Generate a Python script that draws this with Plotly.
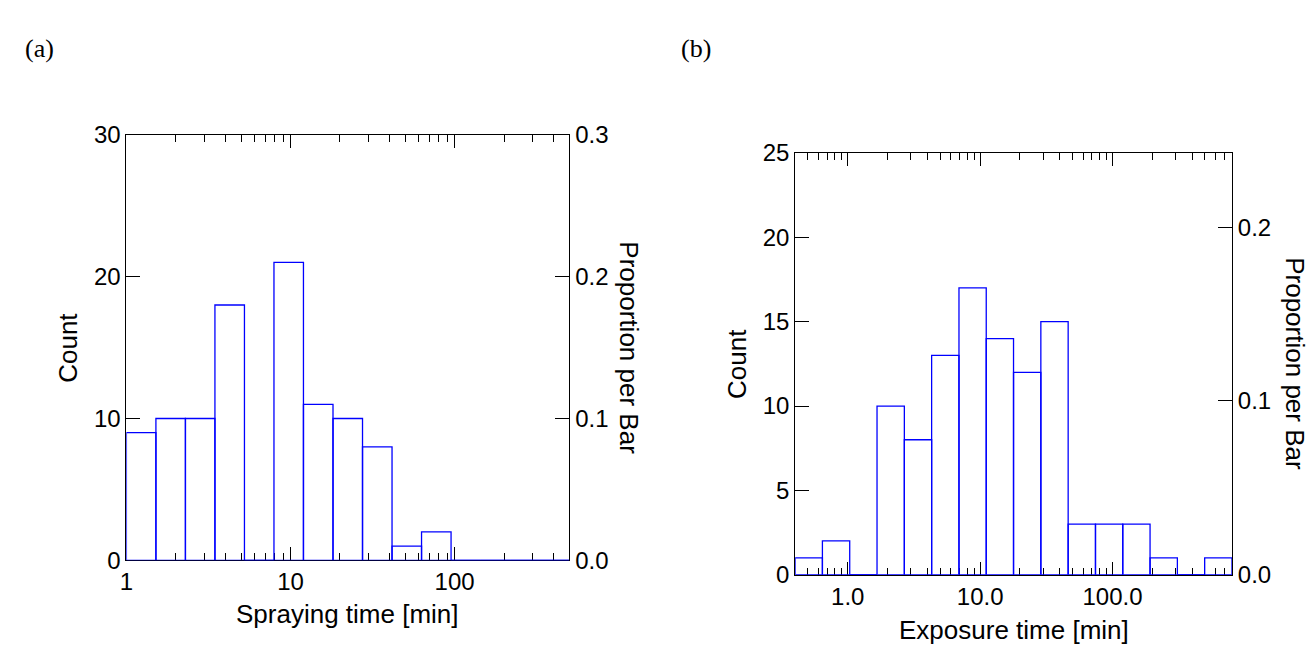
import plotly.graph_objects as go

# (a) spraying time histogram, 15 log-spaced bins from 1 to 500 min
spray_edges = [1.0, 1.513, 2.289, 3.463, 5.240, 7.928, 11.99, 18.15, 27.46,
               41.55, 62.87, 95.12, 143.9, 217.7, 329.4, 500.0]
spray_counts = [9, 10, 10, 18, 0, 21, 11, 10, 8, 1, 2, 0, 0, 0, 0]

# (b) exposure time histogram, 16 log-spaced bins from 0.4 to 800 min
expo_edges = [0.4, 0.643, 1.034, 1.663, 2.675, 4.30, 6.92, 11.12, 17.88,
              28.76, 46.25, 74.4, 119.6, 192.3, 309.3, 497.4, 800.0]
expo_counts = [1, 2, 0, 10, 8, 13, 17, 14, 12, 15, 3, 3, 3, 1, 0, 1]

spray_minor = [2, 3, 4, 5, 6, 7, 8, 9, 20, 30, 40, 50, 60, 70, 80, 90,
               200, 300, 400, 500]
expo_minor = [0.5, 0.6, 0.7, 0.8, 0.9, 2, 3, 4, 5, 6, 7, 8, 9,
              20, 30, 40, 50, 60, 70, 80, 90, 200, 300, 400, 500, 600, 700, 800]

BLUE = '#0000ff'
FONT = 'Liberation Sans, Arial, sans-serif'
W, H = 1316, 649


def outline(edges, counts):
    xs, ys = [], []
    for i, c in enumerate(counts):
        xs += [edges[i], edges[i], edges[i + 1], edges[i + 1], None]
        ys += [0, c, c, 0, None]
    xs += [edges[0], edges[-1]]
    ys += [0, 0]
    return xs, ys


fig = go.Figure()

xa, ya = outline(spray_edges, spray_counts)
fig.add_trace(go.Scatter(x=xa, y=ya, mode='lines', line=dict(color=BLUE, width=1.3),
                         xaxis='x', yaxis='y', hoverinfo='skip'))
n_a = sum(spray_counts)
fig.add_trace(go.Scatter(x=[spray_edges[0]], y=[spray_counts[0] / n_a], mode='markers',
                         marker=dict(opacity=0), xaxis='x', yaxis='y2', hoverinfo='skip'))

xb, yb = outline(expo_edges, expo_counts)
fig.add_trace(go.Scatter(x=xb, y=yb, mode='lines', line=dict(color=BLUE, width=1.3),
                         xaxis='x2', yaxis='y3', hoverinfo='skip'))
n_b = sum(expo_counts)
fig.add_trace(go.Scatter(x=[expo_edges[0]], y=[expo_counts[0] / n_b], mode='markers',
                         marker=dict(opacity=0), xaxis='x2', yaxis='y4', hoverinfo='skip'))

tickfont = dict(family=FONT, size=24, color='black')
axis_common = dict(showline=True, linecolor='black', linewidth=1, showgrid=False,
                   zeroline=False, ticks='inside', tickcolor='black', tickwidth=1,
                   tickfont=tickfont, layer='below traces')


def xaxis(dom, rng, minor, tickvals, ticktext):
    return dict(axis_common, domain=dom, type='log', range=rng, mirror='ticks',
                ticklen=13, tickvals=tickvals, ticktext=ticktext,
                minor=dict(ticks='inside', ticklen=7, tickcolor='black', tickwidth=1,
                           tickvals=minor, showgrid=False))


ya_dom = [1 - 561.7 / H, 1 - 117.7 / H]
yb_dom = [1 - 576.7 / H, 1 - 136.7 / H]

fig.update_layout(
    width=W, height=H,
    margin=dict(l=0, r=0, t=0, b=0),
    paper_bgcolor='white', plot_bgcolor='white',
    showlegend=False,
    xaxis=xaxis([112 / W, 557.3 / W], [0, 2.69897], spray_minor,
                [1, 10, 100], ['1', '10', '100']),
    yaxis=dict(axis_common, domain=ya_dom, anchor='x', range=[0, 30], dtick=10,
               ticklen=14),
    yaxis2=dict(axis_common, domain=ya_dom, anchor='x', overlaying='y', side='right',
                range=[0, 30 / n_a], tickvals=[0, 0.1, 0.2, 0.3],
                ticktext=['0.0', '0.1', '0.2', '0.3'], ticklen=14),
    xaxis2=dict(xaxis([784.3 / W, 1223.5 / W], [-0.39794, 2.90309], expo_minor,
                      [1, 10, 100], ['1.0', '10.0', '100.0']), anchor='y3'),
    yaxis3=dict(axis_common, domain=yb_dom, anchor='x2', range=[0, 25], dtick=5,
                ticklen=14),
    yaxis4=dict(axis_common, domain=yb_dom, anchor='x2', overlaying='y3', side='right',
                range=[0, 25 / n_b], tickvals=[0, 0.1, 0.2],
                ticktext=['0.0', '0.1', '0.2'], ticklen=14),
)
fig.layout.xaxis.anchor = 'y'

titlefont = dict(family=FONT, size=26, color='black')
labels = [
    ('Spraying time [min]', 334.6, 618, 0, titlefont),
    ('Exposure time [min]', 1003.9, 634, 0, titlefont),
    ('Count', 52.5, 339.7, -90, titlefont),
    ('Count', 726, 356.7, -90, titlefont),
    ('Proportion per Bar', 617.5, 339.7, 90, titlefont),
    ('Proportion per Bar', 1286.5, 356.7, 90, titlefont),
]
for text, px, py, ang, f in labels:
    fig.add_annotation(text=text, x=px / W, y=1 - py / H, xref='paper', yref='paper',
                       xanchor='center', yanchor='middle', textangle=ang,
                       showarrow=False, font=f)

panel_font = dict(family='Liberation Serif, Times New Roman, serif', size=26, color='black')
fig.add_annotation(text='(a)', x=8 / W, y=1 - 28 / H, xref='paper', yref='paper',
                   xanchor='left', yanchor='middle', showarrow=False, font=panel_font)
fig.add_annotation(text='(b)', x=668 / W, y=1 - 28 / H, xref='paper', yref='paper',
                   xanchor='left', yanchor='middle', showarrow=False, font=panel_font)

fig.write_html('out.html')
